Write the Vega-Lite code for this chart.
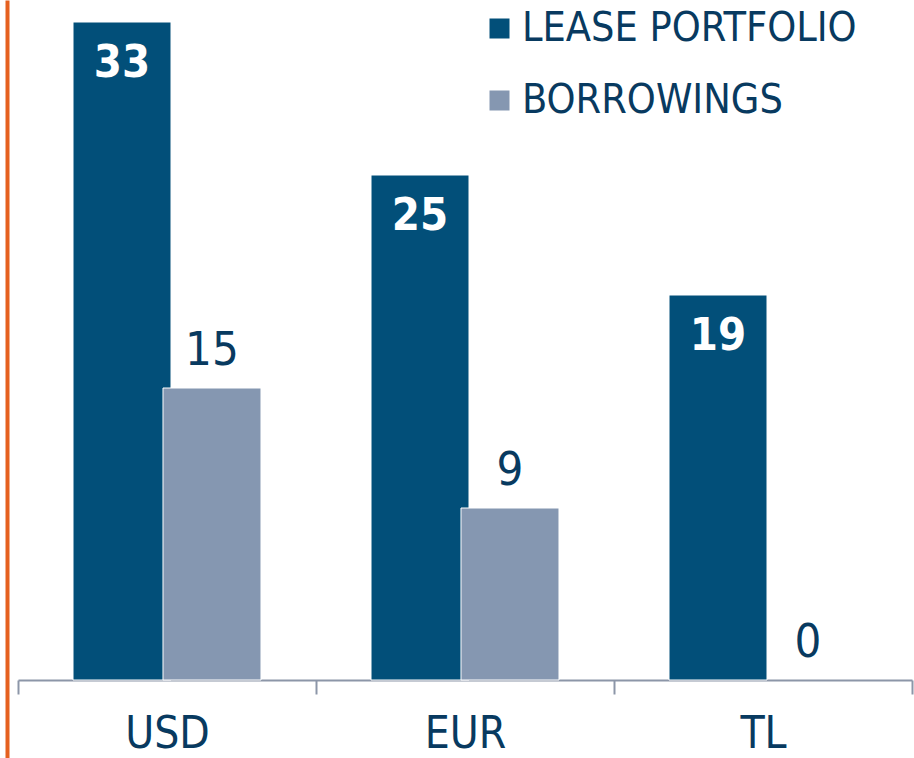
{
  "$schema": "https://vega.github.io/schema/vega-lite/v6.json",
  "width": 894,
  "height": 758,
  "autosize": {"type": "none"},
  "padding": {"left": 18, "top": 0, "right": 2, "bottom": 0},
  "background": "#ffffff",
  "config": {"view": {"stroke": null}},
  "data": {
    "values": [
      {"currency": "USD", "series": "LEASE PORTFOLIO", "value": 32.9},
      {"currency": "EUR", "series": "LEASE PORTFOLIO", "value": 25.25},
      {"currency": "TL", "series": "LEASE PORTFOLIO", "value": 19.25},
      {"currency": "USD", "series": "BORROWINGS", "value": 14.6},
      {"currency": "EUR", "series": "BORROWINGS", "value": 8.6},
      {"currency": "TL", "series": "BORROWINGS", "value": 0}
    ]
  },
  "encoding": {
    "x": {
      "field": "currency",
      "type": "nominal",
      "sort": ["USD", "EUR", "TL"],
      "scale": {"paddingInner": 0, "paddingOuter": 0},
      "axis": {
        "title": null,
        "labelAngle": 0,
        "tickBand": "extent",
        "offset": -78,
        "domainColor": "#8c96a8",
        "domainWidth": 2,
        "tickColor": "#8c96a8",
        "tickWidth": 2,
        "tickSize": 14,
        "labelFont": "DejaVu Sans Condensed, Roboto",
        "labelFontSize": 44,
        "labelColor": "#083a60",
        "labelBaseline": "alphabetic",
        "labelPadding": 53
      }
    },
    "xOffset": {
      "field": "series",
      "type": "nominal",
      "sort": ["LEASE PORTFOLIO", "BORROWINGS"],
      "scale": {"paddingInner": 0, "paddingOuter": 0.656}
    },
    "y": {
      "field": "value",
      "type": "quantitative",
      "scale": {"domain": [-3.9, 34], "nice": false, "zero": false},
      "axis": {
        "title": null,
        "labels": false,
        "ticks": false,
        "grid": false,
        "domainColor": "#e5601f",
        "domainWidth": 4,
        "offset": 11
      }
    }
  },
  "layer": [
    {
      "mark": {"type": "bar", "width": 98, "stroke": "#ffffff", "strokeWidth": 1},
      "encoding": {
        "opacity": {"condition": {"test": "datum.value === 0", "value": 0}, "value": 1},
        "color": {
          "field": "series",
          "type": "nominal",
          "sort": ["LEASE PORTFOLIO", "BORROWINGS"],
          "scale": {"domain": ["LEASE PORTFOLIO", "BORROWINGS"], "range": ["#024f79", "#8597b1"]},
          "legend": {
            "title": null,
            "orient": "none",
            "legendX": 461,
            "legendY": 8,
            "padding": 0,
            "symbolType": "square",
            "symbolSize": 400,
            "symbolStrokeWidth": 0,
            "symbolOpacity": 1,
            "labelFont": "DejaVu Sans Condensed, Roboto",
            "labelFontSize": 41,
            "labelColor": "#083a60",
            "labelOffset": 2,
            "labelLimit": 0,
            "rowPadding": 30
          }
        }
      }
    },
    {
      "transform": [{"filter": "datum.series === 'LEASE PORTFOLIO'"}],
      "mark": {"type": "text", "font": "DejaVu Sans Condensed, Roboto", "fontSize": 45, "fontWeight": "bold", "color": "#ffffff", "baseline": "alphabetic", "dy": 55},
      "encoding": {"text": {"field": "value", "type": "quantitative", "format": ".0f"}}
    },
    {
      "transform": [{"filter": "datum.series === 'BORROWINGS'"}],
      "mark": {"type": "text", "font": "DejaVu Sans Condensed, Roboto", "fontSize": 47, "color": "#083a60", "baseline": "alphabetic", "dy": -23},
      "encoding": {"text": {"field": "value", "type": "quantitative", "format": ".0f"}}
    }
  ]
}
